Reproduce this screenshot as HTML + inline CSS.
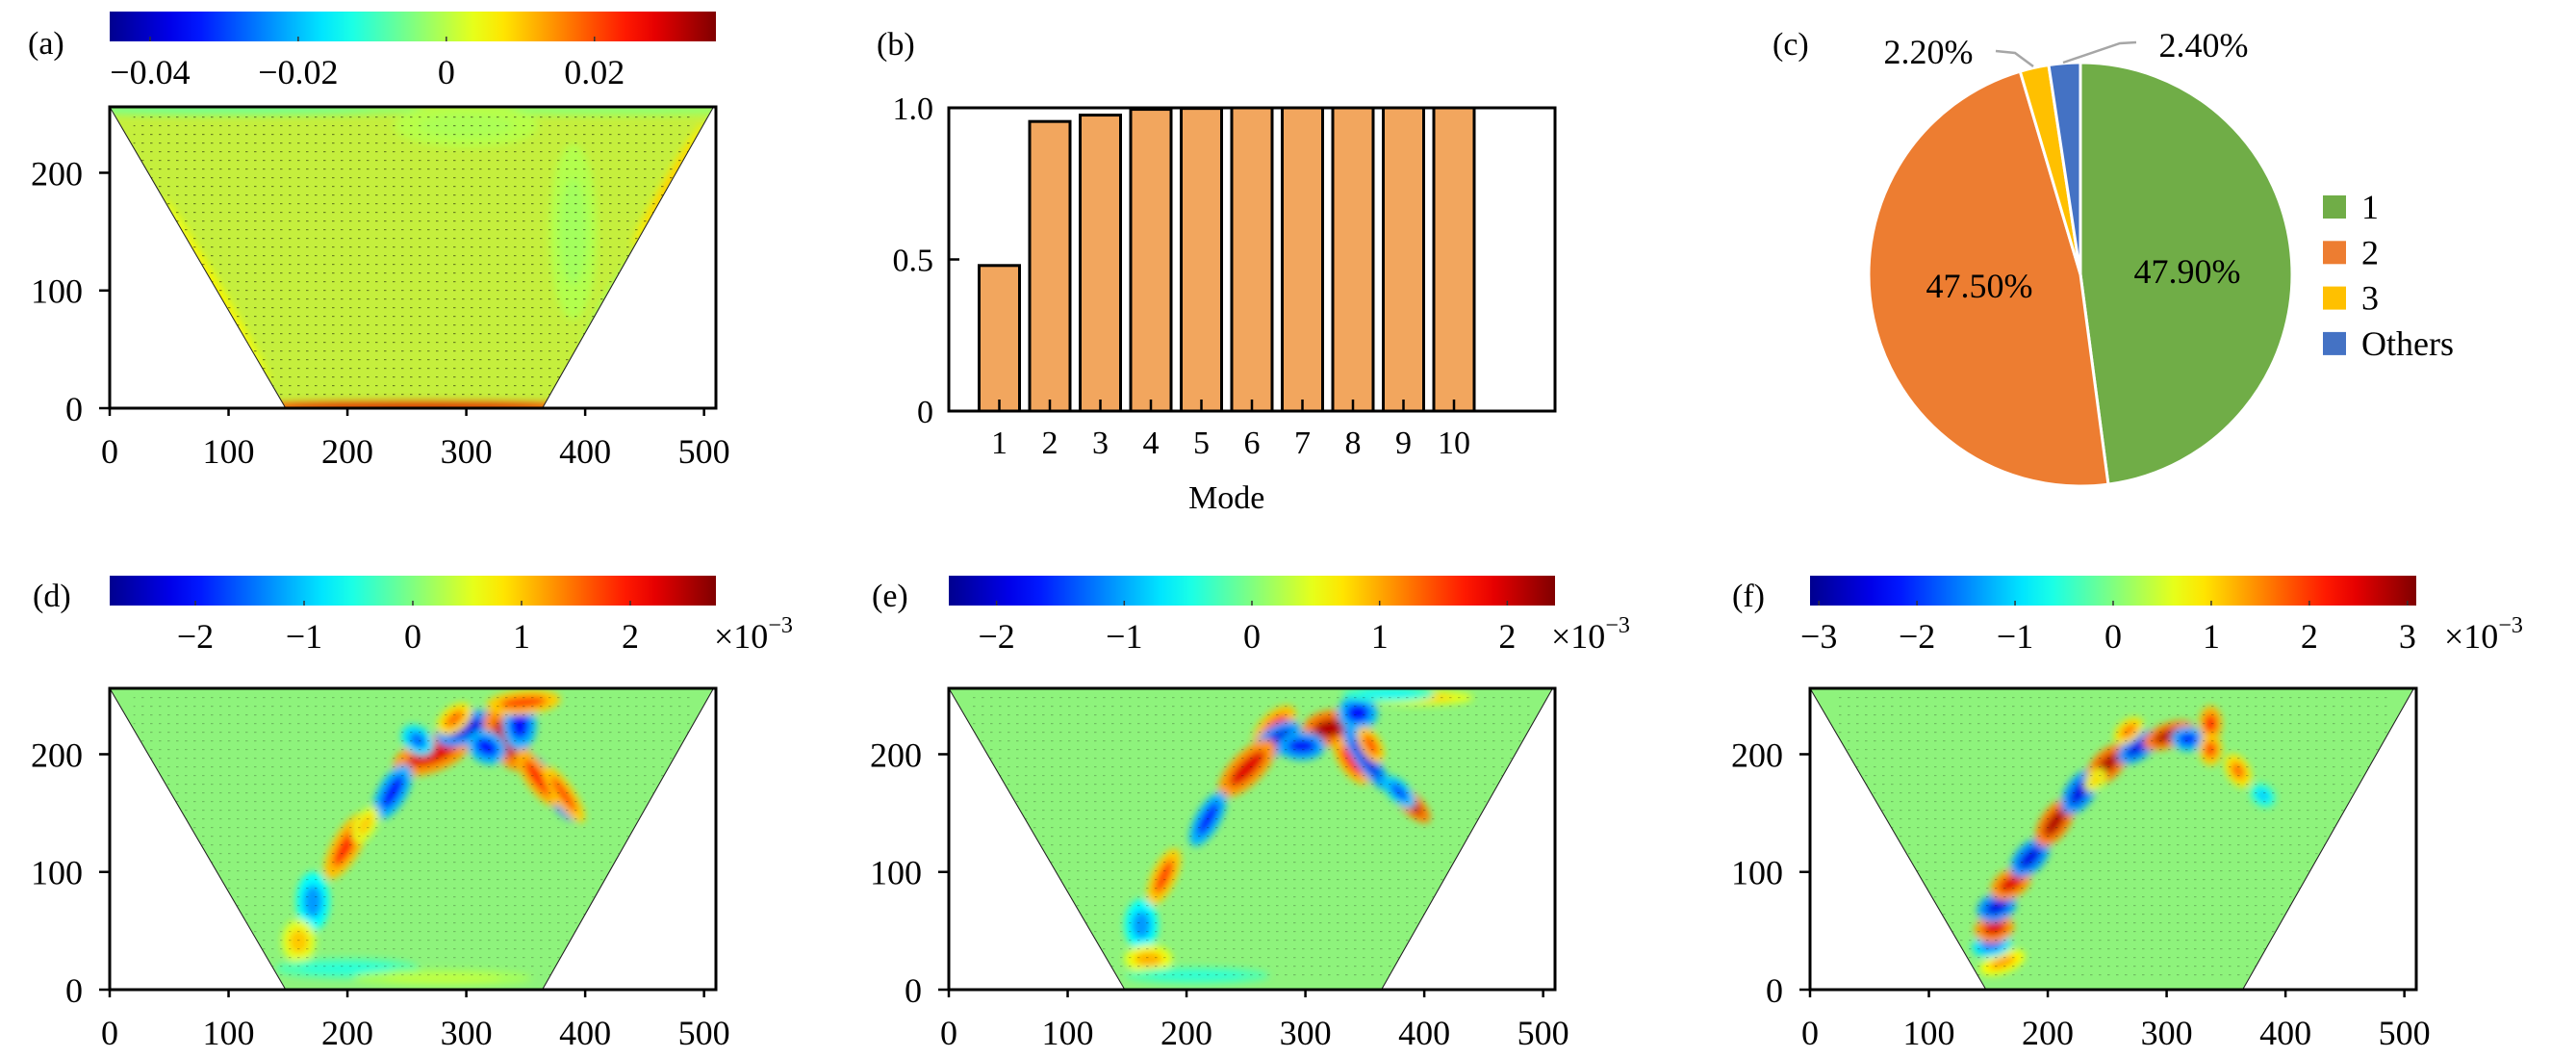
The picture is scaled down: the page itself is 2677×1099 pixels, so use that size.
<!DOCTYPE html>
<html><head><meta charset="utf-8"><style>
html,body{margin:0;padding:0;background:#fff;}
svg{display:block;font-family:"Liberation Serif",serif;}
</style></head><body>
<svg id="fig" width="2677" height="1099" viewBox="0 0 2677 1099" xmlns="http://www.w3.org/2000/svg">
<defs>
<filter id="blur" x="-50%" y="-50%" width="200%" height="200%"><feGaussianBlur stdDeviation="4"/></filter>
<pattern id="dots" width="9" height="9" patternUnits="userSpaceOnUse"><rect x="3" y="4" width="2.5" height="1.2" fill="#000"/></pattern>
</defs>
</svg>
<script>
// ---------- data ----------
const barModes=[1,2,3,4,5,6,7,8,9,10];
const barValues=[0.48,0.955,0.976,0.995,0.998,1,1,1,1,1];
const barYTicks=[0,0.5,1.0];
const barYTickLabels=["0","0.5","1.0"];
const pieLabels=["1","2","3","Others"];
const pieValues=[47.9,47.5,2.2,2.4];
const pieColors=["#70AD47","#ED7D31","#FFC000","#4472C4"];
const xTicks=[0,100,200,300,400,500];
const yTicks=[0,100,200];
const cbTicksA=[-0.04,-0.02,0,0.02];
const cbLabelsA=["−0.04","−0.02","0","0.02"];
const cbTicksD=[-2,-1,0,1,2];
const cbTicksE=[-2,-1,0,1,2];
const cbTicksF=[-3,-2,-1,0,1,2,3];
// blobs: [x, y, relative value, rx, ry, angle]
const blobsA=[[100,254,-0.22,120,2,0],[420,254,-0.15,100,2,0],[390,150,-0.08,12,45,0],[300,240,-0.06,40,10,0],[256,1,0.9,108,1.5,0],[470,190,0.3,40,1.5,-60],[420,90,-0.12,30,2,-60],[90,100,0.18,60,1.5,60]];
const blobsD=[[271,200,0.9,22,8,-20],[299,222,-0.9,16,7,-20],[334,212,0.95,18,8,60],[317,206,-0.8,10,7,30],[345,225,-0.8,8,12,0],[348,244,0.7,20,5,-5],[290,230,0.6,10,5,-40],[259,212,-0.6,6,8,-50],[238,168,-0.8,16,6,-60],[371,172,-1,22,4,55],[360,180,0.8,18,5,55],[382,166,0.7,18,4,55],[199,122,0.75,20,6,-60],[215,140,0.4,10,4,-60],[171,75,-0.5,8,14,0],[159,41,0.4,8,10,0],[200,18,-0.2,40,4,0],[280,10,0.15,50,3,0]];
const blobsE=[[274,223,0.75,14,6,-45],[276,212,-0.9,14,6,-35],[320,222,1,14,8,-10],[297,207,-0.85,12,6,0],[344,235,-0.8,10,8,0],[251,188,0.9,20,7,-45],[339,194,0.8,14,5,55],[351,196,-0.9,20,4,55],[355,208,0.7,10,4,60],[388,159,1,14,4,45],[379,168,-0.7,10,4,45],[218,145,-0.8,16,5,-60],[181,96,0.7,16,5,-65],[162,55,-0.5,8,12,0],[168,26,0.45,12,6,0],[209,12,-0.2,40,3,0],[395,248,0.4,30,2.5,0],[370,251,-0.3,25,2.5,0]];
const blobsF=[[162,23,0.5,12,4,-20],[153,38,-0.6,10,5,-10],[155,52,0.9,10,6,-10],[157,70,-0.9,10,6,-20],[169,90,0.9,11,6,-30],[185,112,-0.9,12,6,-45],[206,142,1,14,6,-55],[227,168,-0.9,13,6,-55],[250,191,1,13,6,-45],[276,206,-0.9,12,5,-35],[302,216,1,14,5,-20],[318,213,-0.8,8,5,0],[337,226,0.8,5,8,0],[337,204,0.7,5,7,0],[360,186,0.6,5,8,-30],[381,165,-0.4,6,4,40],[268,220,0.6,8,4,-40],[240,178,0.4,6,3,-50]];

// ---------- helpers ----------
const NS="http://www.w3.org/2000/svg";
const svg=document.getElementById('fig');
function mk(tag,attrs,parent){const e=document.createElementNS(NS,tag);for(const k in attrs)e.setAttribute(k,attrs[k]);(parent||svg).appendChild(e);return e;}
function txt(s,x,y,size,anchor,parent){const t=mk('text',{x:x,y:y,'font-size':size,'text-anchor':anchor||'middle',fill:'#000'},parent);t.textContent=s;return t;}
function jet(t){t=Math.max(0,Math.min(1,t));
 const st=[[0,[0,0,143]],[0.125,[0,0,255]],[0.375,[0,255,255]],[0.5,[128,255,128]],[0.625,[255,255,0]],[0.875,[255,0,0]],[1,[128,0,0]]];
 for(let i=1;i<st.length;i++){if(t<=st[i][0]){const a=st[i-1],b=st[i],f=(t-a[0])/(b[0]-a[0]);
  return 'rgb('+a[1].map((c,j)=>Math.round(c+(b[1][j]-c)*f)).join(',')+')';}}return 'rgb(128,0,0)';}
function jetGrad(id){const g=mk('linearGradient',{id:id,x1:0,y1:0,x2:1,y2:0},svg.querySelector('defs'));
 for(let i=0;i<=20;i++){mk('stop',{offset:i/20,'stop-color':jet(i/20)},g);}}
jetGrad('jetg');

// ---------- heatmap panels ----------
function heatPanel(name,label,lx,ly,x0,y0,base,t0,blobs,cb){
 const W=630,H=313,XM=510,YM=256;
 const g=mk('g',{});
 
 
 const sx=v=>x0+v/XM*W, sy=v=>y0+H-v/YM*H;
 const pl=txt(label,lx,ly,34,'start',g);
 
 
 const cx0=x0,cy0=cb.y,cy1=cb.y+31;
 const cbr=mk('rect',{x:cx0,y:cy0,width:W,height:31,fill:'url(#jetg)'},g);
 
 
 const cs=v=>cx0+(v-cb.min)/(cb.max-cb.min)*W;
 cb.ticks.forEach((v,i)=>{
  mk('line',{x1:cs(v),x2:cs(v),y1:cy1,y2:cy1-5,stroke:'#333','stroke-width':1.5},g);
  const t=txt(cb.labels?cb.labels[i]:(v<0?'−'+(-v):String(v)),cs(v),cy1+44,36,'middle',g);
  
  
 });
 if(cb.exp){const t=mk('text',{x:cb.expX,y:cy1+44,'font-size':36,fill:'#000'},g);
  
  
  t.innerHTML='×10<tspan dy="-16" font-size="24">−3</tspan>';}
 const pts=[[0,YM],[508,YM],[364,0],[148,0]].map(p=>sx(p[0])+','+sy(p[1])).join(' ');
 const cid='clip-'+name;
 const cp=mk('clipPath',{id:cid},svg.querySelector('defs'));
 mk('polygon',{points:pts},cp);
 const hg=mk('g',{'clip-path':'url(#'+cid+')'},g);
 const tr=mk('polygon',{points:pts,fill:base,stroke:'#444','stroke-width':1},hg);
 
 
 const bg=mk('g',{filter:'url(#blur)'},hg);
 blobs.forEach(b=>{
  const cx=sx(b[0]),cy=sy(b[1]),rx=b[3]*W/XM,ry=b[4]*H/YM;
  const halo=mk('ellipse',{cx:cx,cy:cy,rx:rx*1.45+3,ry:ry*1.6+3,fill:jet(t0+b[2]*0.25),transform:'rotate('+b[5]+' '+cx+' '+cy+')'},bg);
  
  
  const e=mk('ellipse',{cx:cx,cy:cy,rx:rx,ry:ry,fill:jet(t0+b[2]*0.45),transform:'rotate('+b[5]+' '+cx+' '+cy+')'},bg);
  
  
 });
 mk('rect',{x:sx(20),y:sy(250),width:sx(490)-sx(20),height:sy(6)-sy(250),fill:'url(#dots)',opacity:name==='a'?0.45:0.22},hg);
 mk('polygon',{points:pts,fill:'none',stroke:'#222','stroke-width':1},g);
 const ax=mk('g',{},g);
 
 
 mk('rect',{x:x0,y:y0,width:W,height:H,fill:'none',stroke:'#000','stroke-width':3},ax);
 xTicks.forEach(v=>{mk('line',{x1:sx(v),x2:sx(v),y1:y0+H,y2:y0+H+8,stroke:'#000','stroke-width':2.5},ax);
  const t=txt(String(v),sx(v),y0+H+57,36,'middle',ax);
  
  });
 yTicks.forEach(v=>{mk('line',{x1:x0-11,x2:x0,y1:sy(v),y2:sy(v),stroke:'#000','stroke-width':2.5},ax);
  const t=txt(String(v),x0-28,sy(v)+13,36,'end',ax);
  
  });
}
heatPanel('a','(a)',29,56,114,111,'#c5ef3d',0.57,blobsA,{y:12,min:-0.04545,max:0.0364,ticks:cbTicksA,labels:cbLabelsA});
heatPanel('d','(d)',34,630,114,715,'#8ef37c',0.5,blobsD,{y:598,min:-2.788,max:2.788,ticks:cbTicksD,exp:true,expX:742});
heatPanel('e','(e)',906,630,986,715,'#8ef37c',0.5,blobsE,{y:598,min:-2.374,max:2.374,ticks:cbTicksE,exp:true,expX:1612});
heatPanel('f','(f)',1800,630,1881,715,'#8ef37c',0.5,blobsF,{y:598,min:-3.09,max:3.09,ticks:cbTicksF,exp:true,expX:2540});

// ---------- bar chart (b) ----------
(function(){
 const x0=986,y0=112,W=630,H=315;
 const g=mk('g',{});
 
 
 const pl=txt('(b)',911,57,34,'start',g);
 
 
 const sx=i=>x0+i/12*W, sy=v=>y0+H-v*H;
 barModes.forEach((m,i)=>{
  const v=barValues[i];
  const r=mk('rect',{x:sx(m)-21,y:sy(v),width:42,height:sy(0)-sy(v),fill:'#F2A65E',stroke:'#000','stroke-width':3},g);
  
  
 });
 mk('rect',{x:x0,y:y0,width:W,height:H,fill:'none',stroke:'#000','stroke-width':3},g);
 barModes.forEach(m=>{mk('line',{x1:sx(m),x2:sx(m),y1:y0+H,y2:y0+H-12,stroke:'#000','stroke-width':2.5},g);
  const t=txt(String(m),sx(m),y0+H+44,34,'middle',g);
  
  });
 barYTicks.forEach((v,i)=>{mk('line',{x1:x0,x2:x0+11,y1:sy(v),y2:sy(v),stroke:'#000','stroke-width':2.5},g);
  const t=txt(barYTickLabels[i],x0-16,sy(v)+12,34,'end',g);
  
  });
 const xl=txt('Mode',sx(5.5),528,34,'middle',g);
 
 
})();

// ---------- pie chart (c) ----------
(function(){
 const cx=2162,cy=285,r=220;
 const g=mk('g',{});
 
 
 const pl=txt('(c)',1842,57,34,'start',g);
 
 
 const tot=pieValues.reduce((a,b)=>a+b,0);
 let a0=0;
 const pt=a=>[cx+r*Math.sin(a),cy-r*Math.cos(a)];
 pieValues.forEach((v,i)=>{
  const a1=a0+v/tot*2*Math.PI;
  const p0=pt(a0),p1=pt(a1);
  const s=mk('path',{d:'M'+cx+','+cy+' L'+p0[0]+','+p0[1]+' A'+r+','+r+' 0 '+((a1-a0)>Math.PI?1:0)+' 1 '+p1[0]+','+p1[1]+' Z',fill:pieColors[i],stroke:'#fff','stroke-width':3},g);
  
  
  a0=a1;
 });
 const l1=txt(pieValues[0].toFixed(2)+'%',2273,294,36,'middle',g);
 
 
 const l2=txt(pieValues[1].toFixed(2)+'%',2057,309,36,'middle',g);
 
 
 const l3=txt(pieValues[2].toFixed(2)+'%',2004,66,36,'middle',g);
 
 
 const l4=txt(pieValues[3].toFixed(2)+'%',2290,59,36,'middle',g);
 
 
 const ld1=mk('polyline',{points:'2074,53 2094,55 2113,69',fill:'none',stroke:'#a6a6a6','stroke-width':2.5},g);
 
 
 const ld2=mk('polyline',{points:'2144,65 2203,45 2220,44',fill:'none',stroke:'#a6a6a6','stroke-width':2.5},g);
 
 
 const lg=mk('g',{},g);
 
 
 pieLabels.forEach((l,i)=>{
  const y=203+i*47.3;
  const sq=mk('rect',{x:2414,y:y,width:24,height:24,fill:pieColors[i]},lg);
  
  
  const t=txt(l,2454,y+24,36,'start',lg);
  
  
 });
})();
</script>
</body></html>
